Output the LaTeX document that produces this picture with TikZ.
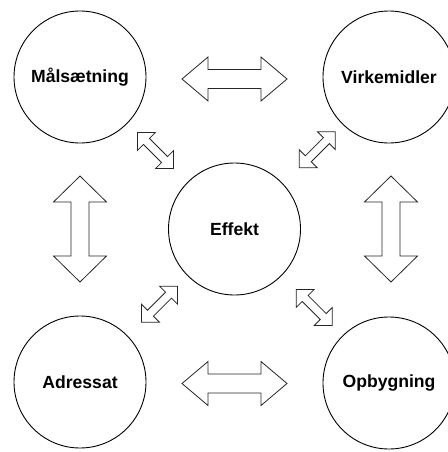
\documentclass[tikz,border=0pt]{standalone}
\usepackage{fontspec}
\setmainfont{Liberation Sans}
\tikzset{
  circ/.style={draw=black, line width=0.9pt, circle, minimum size=132pt, inner sep=0pt,
    font=\fontsize{17.6}{20}\selectfont\bfseries},
  blockarrow/.style={draw=black!85, line width=0.8pt, fill=white, line join=miter},
}
% center x, center y, angle, half length, head length, head half width, shaft half width
\newcommand{\dblarr}[7]{%
  \begin{scope}[shift={(#1,#2)}, rotate=#3]
    \draw[blockarrow] (-#4,0) -- (-#4+#5,#6) -- (-#4+#5,#7) -- (#4-#5,#7) -- (#4-#5,#6)
      -- (#4,0) -- (#4-#5,-#6) -- (#4-#5,-#7) -- (-#4+#5,-#7) -- (-#4+#5,-#6) -- cycle;
  \end{scope}}
\begin{document}
\begin{tikzpicture}[x=1pt,y=-1pt]
\useasboundingbox (0,0) rectangle (447,452);
\node[circ] (mal) at (80,77) {Målsætning};
\node[circ] (virk) at (389,77) {Virkemidler};
\node[circ] (eff) at (234.5,229) {Effekt};
\node[circ] (adr) at (80,382) {Adressat};
\node[circ] (opb) at (389,383) {Opbygning};
% horizontal arrows
\dblarr{234.5}{79}{0}{52.5}{26}{22}{9.5}
\dblarr{234.5}{383.5}{0}{52.5}{26}{22}{9.5}
% vertical arrows
\dblarr{80}{229}{90}{53}{26}{26.5}{9}
\dblarr{391}{229}{90}{53}{26}{26.5}{9}
% diagonal arrows
\dblarr{155.5}{150.5}{-45}{25.5}{12.7}{12.7}{4.2}
\dblarr{317.3}{149.7}{45}{25.5}{12.7}{12.7}{4.2}
\dblarr{159.5}{304.2}{45}{25.5}{12.7}{12.7}{4.2}
\dblarr{314.2}{307.5}{-45}{25.5}{12.7}{12.7}{4.2}
\end{tikzpicture}
\end{document}
